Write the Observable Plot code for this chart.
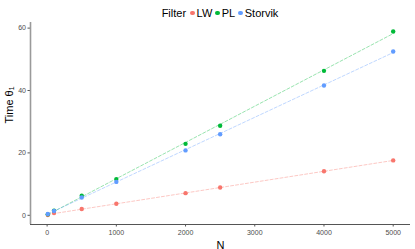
<!DOCTYPE html>
<html><head><meta charset="utf-8">
<script src="https://cdn.jsdelivr.net/npm/d3@7"></script>
<script src="https://cdn.jsdelivr.net/npm/@observablehq/plot@0.6"></script>
<style>
body{margin:0;background:#fff;font-family:"Liberation Sans",Arial,sans-serif;}
#legend{height:20px;display:flex;align-items:center;justify-content:center;font-size:11px;color:#000;padding-left:25px;box-sizing:border-box;width:415px;padding-top:6px}
#legend .it{display:flex;align-items:center;margin-left:3px}
#legend .dot{width:4.5px;height:4.5px;border-radius:50%;margin-right:2px}
</style></head><body>
<div id="legend"></div>
<div id="chart"></div>
<script>
const filters = ["LW", "PL", "Storvik"];
const colors = ["#F8766D", "#00BA38", "#619CFF"];
const N = [10, 100, 500, 1000, 2000, 2500, 4000, 5000];
const timeLW = [0.1, 0.7, 2.0, 3.7, 7.1, 8.9, 14.1, 17.6];
const timePL = [0.3, 1.5, 6.3, 11.6, 22.9, 28.7, 46.3, 58.9];
const timeStorvik = [0.4, 1.4, 5.7, 10.7, 20.8, 26.0, 41.6, 52.5];
const xTicks = [0, 1000, 2000, 3000, 4000, 5000];
const yTicks = [0, 20, 40, 60];
const xDomain = [-240, 5250];
const yDomain = [-2.95, 61.8];

const series = [timeLW, timePL, timeStorvik];
const data = [];
filters.forEach((f, i) => N.forEach((n, j) => data.push({Filter: f, N: n, Time: series[i][j]})));

const leg = document.getElementById("legend");
leg.innerHTML = `<span style="margin-right:1px">Filter</span>` + filters.map((f, i) =>
  `<span class="it"><span class="dot" style="background:${colors[i]}"></span>${f}</span>`).join("");

const chart = Plot.plot({
  width: 415, height: 229,
  marginLeft: 30, marginRight: 5, marginTop: 2, marginBottom: 25,
  style: {fontFamily: "Liberation Sans, Arial, sans-serif", background: "#fff"},
  x: {domain: xDomain, label: null},
  y: {domain: yDomain, label: null},
  color: {domain: filters, range: colors},
  marks: [
    Plot.axisX({ticks: xTicks, tickFormat: d3.format("d"), tickSize: 2.5, tickPadding: 3, label: null, fontSize: 7, color: "#4d4d4d", stroke: "#555"}),
    Plot.axisY({ticks: yTicks, tickFormat: d3.format("d"), tickSize: 2.5, tickPadding: 2, label: null, fontSize: 7, color: "#4d4d4d", stroke: "#555"}),
    Plot.ruleX([xDomain[0]], {stroke: "#9a9a9a", strokeWidth: 1.6}),
    Plot.ruleY([yDomain[0]], {stroke: "#555", strokeWidth: 1.2}),
    Plot.linearRegressionY(data, {x: "N", y: "Time", stroke: "Filter", ci: 0, strokeDasharray: "3,2", strokeOpacity: 0.45, strokeWidth: 0.9}),
    Plot.dot(data, {x: "N", y: "Time", fill: "Filter", r: 2.2}),
    Plot.text(["N"], {frameAnchor: "bottom", dy: 24, fontSize: 11, fill: "#000"}),
    Plot.text(["Time θ₁"], {frameAnchor: "left", dx: -21, rotate: -90, fontSize: 11, fill: "#000"})
  ]
});
chart.style.overflow = "visible";
document.getElementById("chart").appendChild(chart);
</script>
</body></html>
